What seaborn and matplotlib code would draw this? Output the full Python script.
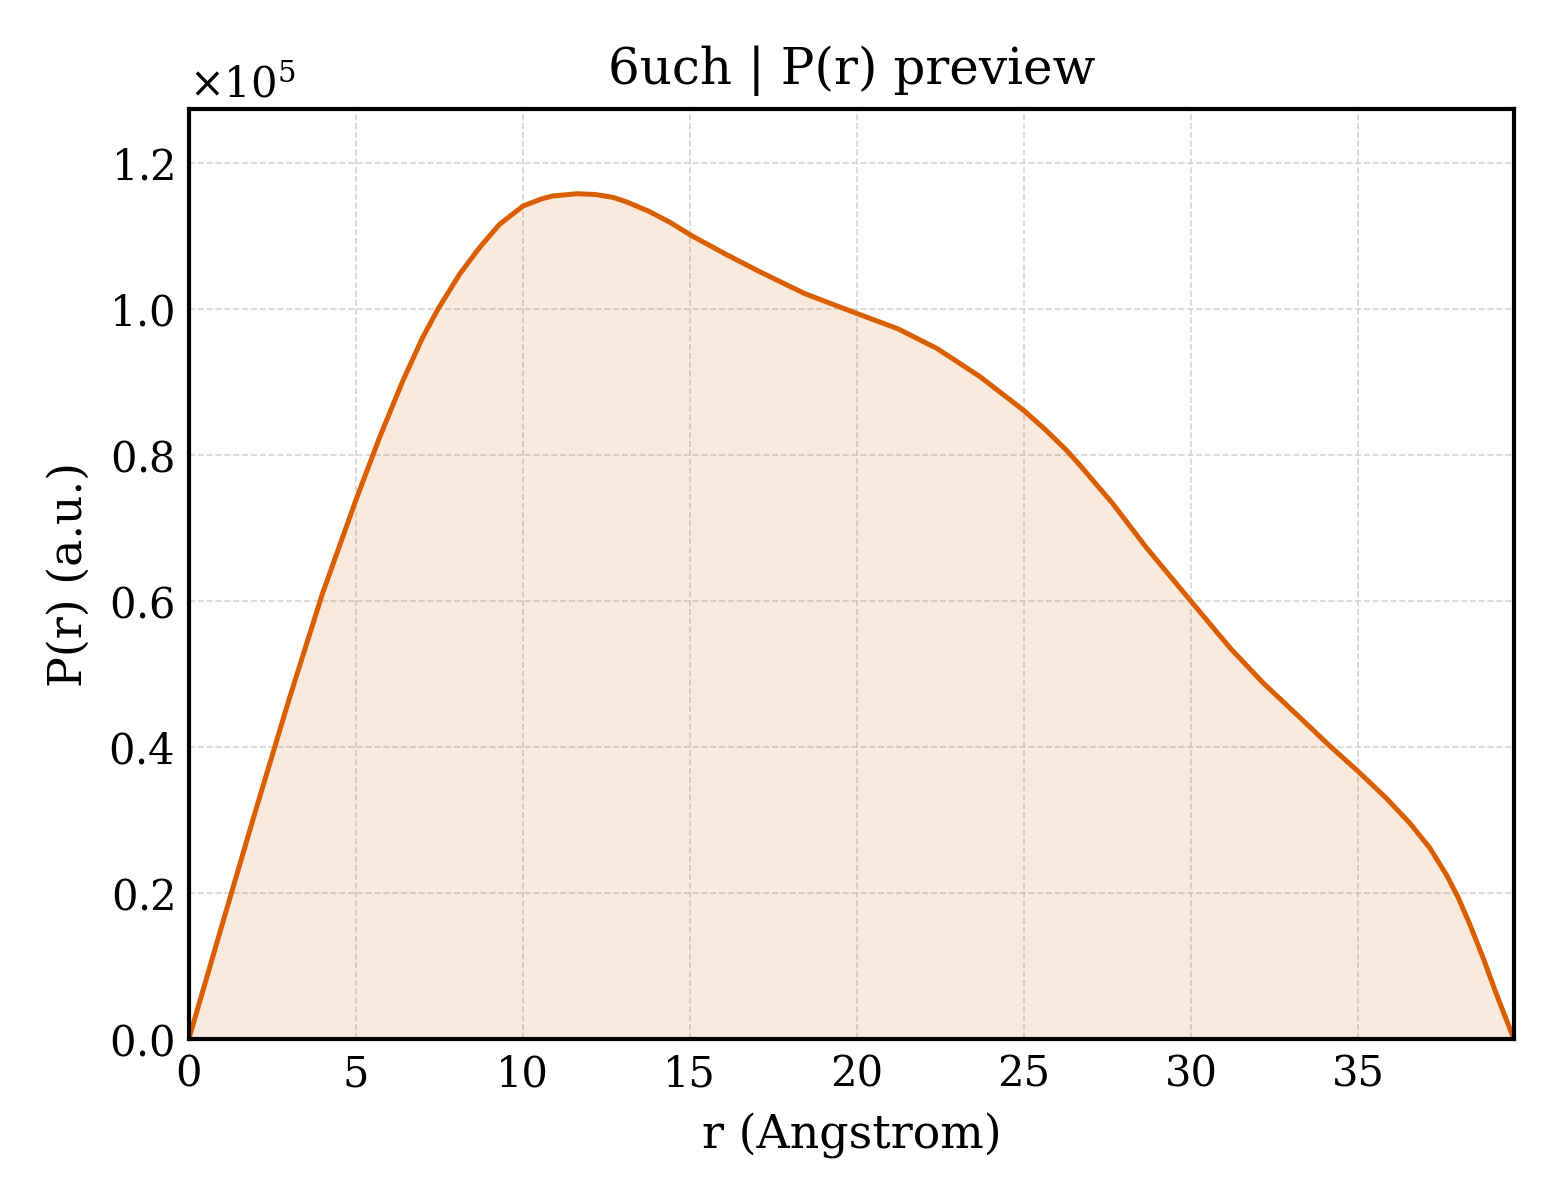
import numpy as np
import pandas as pd
import matplotlib
matplotlib.use("Agg")
import matplotlib.pyplot as plt
import seaborn as sns
from matplotlib.ticker import ScalarFormatter

# P(r) values (r in Angstrom, P in units of 1e5 a.u.)
r_vals = [0.0, 1.0, 2.0, 3.0, 4.0, 5.0, 5.71, 6.41, 7.0, 7.46, 8.11, 8.7, 9.3,
          10.0, 10.56, 10.9, 11.63, 12.17, 12.7, 13.1, 13.77, 14.44, 15.0, 16.04,
          17.1, 18.45, 20.0, 21.23, 22.4, 23.7, 24.35, 25.0, 25.64, 26.29, 26.68,
          27.67, 28.67, 30.0, 31.17, 32.16, 33.16, 34.15, 35.0, 35.85,
          36.55, 37.15, 37.65, 38.0, 38.35, 38.75, 39.15, 39.67]
p_vals = [0.0, 0.157, 0.313, 0.465, 0.61, 0.738, 0.824, 0.902, 0.961, 1.0,
          1.048, 1.084, 1.116, 1.141, 1.151, 1.155, 1.158, 1.157, 1.153, 1.147,
          1.134, 1.118, 1.102, 1.076, 1.051, 1.021, 0.994, 0.973, 0.946, 0.907,
          0.884, 0.861, 0.835, 0.806, 0.786, 0.733, 0.673, 0.600, 0.536,
          0.488, 0.445, 0.402, 0.367, 0.330, 0.296, 0.262, 0.225, 0.194, 0.157,
          0.111, 0.061, 0.0]
scale = 1e5

df = pd.DataFrame({"r": r_vals, "P": np.array(p_vals) * scale})

title = "6uch | P(r) preview"
xlabel = "r (Angstrom)"
ylabel = "P(r) (a.u.)"
color = "#d95f02"

sns.set_theme(style="white")
plt.rcParams["font.family"] = ["DejaVu Serif"]
plt.rcParams["mathtext.fontset"] = "dejavuserif"
plt.rcParams["text.color"] = "black"
plt.rcParams["axes.labelcolor"] = "black"
plt.rcParams["xtick.color"] = "black"
plt.rcParams["ytick.color"] = "black"

fig, ax = plt.subplots(figsize=(5.2, 4.0), dpi=300)
fig.subplots_adjust(left=0.121, right=0.9705, top=0.909, bottom=0.134)

sns.lineplot(data=df, x="r", y="P", ax=ax, color=color, linewidth=1.2)
ax.fill_between(df["r"], 0, df["P"], color=color, alpha=0.13, linewidth=0)

ax.set_xlim(0, df["r"].max())
ax.set_ylim(0, df["P"].max() * 1.1)

ax.set_title(title, fontsize=12, color="black")
ax.set_xlabel(xlabel, fontsize=11, color="black")
ax.set_ylabel(ylabel, fontsize=11, color="black")

fmt = ScalarFormatter(useMathText=True)
fmt.set_powerlimits((0, 0))
ax.yaxis.set_major_formatter(fmt)
ax.yaxis.get_offset_text().set_fontsize(10)
ax.yaxis.get_offset_text().set_color("black")

ax.tick_params(direction="in", length=3.8, width=0.8, labelsize=10, colors="black")
ax.grid(True, linestyle="--", linewidth=0.4, color="#d0d0d0", alpha=0.9)
for s in ax.spines.values():
    s.set_visible(True)
    s.set_color("black")
    s.set_linewidth(1.0)

fig.savefig("out.png", dpi=300)
